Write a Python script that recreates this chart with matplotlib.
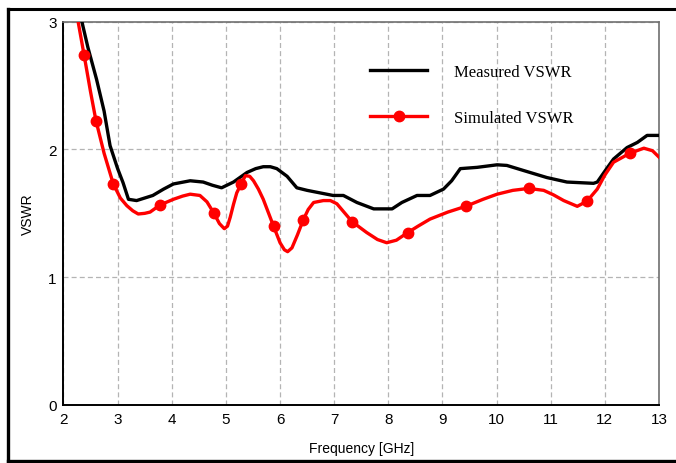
import numpy as np
import matplotlib.pyplot as plt
from matplotlib.lines import Line2D

# measured VSWR (GHz, VSWR)
meas_freq = [2.20, 2.34, 2.45, 2.61, 2.75, 2.86, 3.00, 3.10, 3.20, 3.35, 3.50, 3.65,
             3.85, 4.03, 4.34, 4.58, 4.75, 4.92, 5.14, 5.39, 5.55, 5.69, 5.82, 5.94,
             6.13, 6.31, 6.50, 6.68, 6.98, 7.17, 7.42, 7.73, 8.07, 8.25, 8.53, 8.77,
             9.02, 9.17, 9.33, 9.64, 10.01, 10.19, 10.50, 10.93, 11.30, 11.79, 11.86,
             12.00, 12.16, 12.41, 12.60, 12.78, 13.00]
meas_vswr = [3.20, 3.00, 2.80, 2.55, 2.30, 2.03, 1.85, 1.74, 1.61, 1.60, 1.62, 1.64,
             1.69, 1.73, 1.755, 1.745, 1.72, 1.70, 1.745, 1.82, 1.85, 1.865, 1.865, 1.85,
             1.79, 1.70, 1.68, 1.665, 1.64, 1.64, 1.585, 1.535, 1.535, 1.585, 1.64, 1.64,
             1.69, 1.755, 1.85, 1.86, 1.88, 1.875, 1.835, 1.78, 1.745, 1.735, 1.745,
             1.83, 1.925, 2.015, 2.055, 2.11, 2.11]

# simulated VSWR
sim_freq = [2.20, 2.27, 2.38, 2.50, 2.60, 2.75, 2.92, 3.05, 3.17, 3.28, 3.38, 3.50,
            3.60, 3.78, 4.03, 4.20, 4.34, 4.52, 4.65, 4.78, 4.88, 4.97, 5.03, 5.08,
            5.14, 5.20, 5.28, 5.36, 5.44, 5.51, 5.60, 5.69, 5.88, 6.00, 6.08, 6.14,
            6.22, 6.32, 6.43, 6.52, 6.62, 6.80, 6.93, 7.05, 7.33, 7.60, 7.80, 7.97,
            8.15, 8.36, 8.55, 8.77, 9.10, 9.43, 9.75, 10.01, 10.30, 10.59, 10.87,
            11.05, 11.24, 11.49, 11.67, 11.86, 12.00, 12.16, 12.46, 12.72, 12.88, 13.00]
sim_vswr = [3.25, 3.00, 2.74, 2.45, 2.225, 1.97, 1.73, 1.62, 1.56, 1.52, 1.495, 1.50,
            1.51, 1.565, 1.61, 1.635, 1.65, 1.64, 1.59, 1.50, 1.42, 1.38, 1.40, 1.47,
            1.57, 1.66, 1.73, 1.795, 1.79, 1.755, 1.69, 1.61, 1.40, 1.27, 1.215, 1.20,
            1.23, 1.33, 1.45, 1.53, 1.585, 1.60, 1.60, 1.575, 1.435, 1.35, 1.295, 1.27,
            1.29, 1.35, 1.40, 1.455, 1.51, 1.555, 1.61, 1.65, 1.68, 1.695, 1.68,
            1.645, 1.60, 1.555, 1.595, 1.69, 1.80, 1.90, 1.97, 2.01, 1.99, 1.94]
sim_marker_freq = [2.38, 2.60, 2.92, 3.78, 4.78, 5.28, 5.88, 6.43, 7.33, 8.36,
                   9.43, 10.59, 11.67, 12.46]

xticks = list(range(2, 14))
yticks = [0, 1, 2, 3]

fig = plt.figure(figsize=(6.76, 4.64), dpi=100)
plt.rcParams['font.family'] = ['Liberation Sans', 'DejaVu Sans']

# outer frame around the figure
fig.add_artist(Line2D([8 / 676, 8 / 676], [2 / 464, 454 / 464], color='black', lw=2.4,
                      transform=fig.transFigure))
fig.add_artist(Line2D([8 / 676, 1.0], [454 / 464, 454 / 464], color='black', lw=2.2,
                      transform=fig.transFigure))
fig.add_artist(Line2D([8 / 676, 1.0], [2 / 464, 2 / 464], color='black', lw=2.4,
                      transform=fig.transFigure))

ax = fig.add_axes([63.5 / 676, 58 / 464, 595.5 / 676, 383.3 / 464])

mark_idx = [sim_freq.index(f) for f in sim_marker_freq]
ax.plot(meas_freq, meas_vswr, color='black', lw=2.4, label='Measured VSWR', zorder=3)
ax.plot(sim_freq, sim_vswr, color='red', lw=2.4, marker='o', markersize=7.5,
        markevery=mark_idx, label='Simulated VSWR', zorder=4)

ax.set_xlim(2, 13)
ax.set_ylim(0, 3)
ax.set_xticks(xticks)
ax.set_yticks(yticks)
ax.tick_params(length=0, labelsize=11, pad=5)
ax.grid(True, color='#b4b4b4', linestyle=(0, (4, 2.5)), lw=0.9)
ax.set_axisbelow(True)
for side in ['top', 'right']:
    ax.spines[side].set_color('#707070')
    ax.spines[side].set_linewidth(1.2)
for side in ['left', 'bottom']:
    ax.spines[side].set_color('black')
    ax.spines[side].set_linewidth(1.4)

ax.set_xlabel('Frequency [GHz]', fontsize=10)
ax.set_ylabel('VSWR', fontsize=10)
ax.xaxis.set_label_coords(0.5, -0.095)
ax.yaxis.set_label_coords(-0.048, 0.5)

leg = ax.legend(loc='upper left', bbox_to_anchor=(0.49, 0.93), frameon=False,
                prop={'family': 'Liberation Serif', 'size': 12},
                handlelength=3.4, handletextpad=1.6, labelspacing=1.8)

fig.savefig('out.png', dpi=100)
